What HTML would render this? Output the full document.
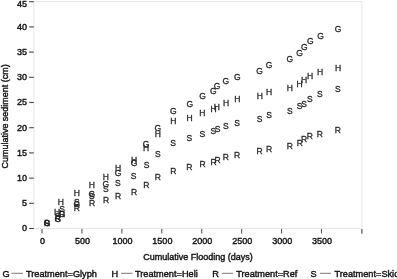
<!DOCTYPE html>
<html><head><meta charset="utf-8"><style>
html,body{margin:0;padding:0;background:#fff;width:397px;height:279px;overflow:hidden}
svg{display:block;filter:grayscale(1)}
text{font-family:"Liberation Sans",sans-serif;fill:#111;stroke:#111;stroke-width:0.4px}
.m text{font-size:9.5px;text-anchor:middle;fill:#222;stroke:#222;stroke-width:0.3px}
.tl{font-size:9px}
.tk{stroke:#444;stroke-width:1.1}
.lg{font-size:9.2px}
.ll{stroke:#777;stroke-width:1}
</style></head><body>
<svg width="397" height="279" viewBox="0 0 397 279">
<rect x="34" y="1.6" width="327.9" height="226.9" fill="none" stroke="#e6e6e6" stroke-width="1"/>
<line x1="361.9" y1="229" x2="361.9" y2="233.8" class="tk" style="stroke:#444"/>
<line x1="42.00" y1="229" x2="42.00" y2="233.5" class="tk" stroke="#555" style="stroke:#555"/>
<text x="42.60" y="243.60" text-anchor="middle" class="tl">0</text>
<line x1="81.93" y1="229" x2="81.93" y2="233.5" class="tk" stroke="#555" style="stroke:#555"/>
<text x="82.53" y="243.60" text-anchor="middle" class="tl">500</text>
<line x1="121.86" y1="229" x2="121.86" y2="233.5" class="tk" stroke="#555" style="stroke:#555"/>
<text x="122.46" y="243.60" text-anchor="middle" class="tl">1000</text>
<line x1="161.79" y1="229" x2="161.79" y2="233.5" class="tk" stroke="#555" style="stroke:#555"/>
<text x="162.39" y="243.60" text-anchor="middle" class="tl">1500</text>
<line x1="201.71" y1="229" x2="201.71" y2="233.5" class="tk" stroke="#555" style="stroke:#555"/>
<text x="202.31" y="243.60" text-anchor="middle" class="tl">2000</text>
<line x1="241.64" y1="229" x2="241.64" y2="233.5" class="tk" stroke="#555" style="stroke:#555"/>
<text x="242.24" y="243.60" text-anchor="middle" class="tl">2500</text>
<line x1="281.57" y1="229" x2="281.57" y2="233.5" class="tk" stroke="#555" style="stroke:#555"/>
<text x="282.17" y="243.60" text-anchor="middle" class="tl">3000</text>
<line x1="321.50" y1="229" x2="321.50" y2="233.5" class="tk" stroke="#555" style="stroke:#555"/>
<text x="322.10" y="243.60" text-anchor="middle" class="tl">3500</text>
<line x1="29.2" y1="228.50" x2="33.8" y2="228.50" class="tk"/>
<text x="27" y="231.40" text-anchor="end" class="tl">0</text>
<line x1="29.2" y1="203.30" x2="33.8" y2="203.30" class="tk"/>
<text x="27" y="206.20" text-anchor="end" class="tl">5</text>
<line x1="29.2" y1="178.10" x2="33.8" y2="178.10" class="tk"/>
<text x="27" y="181.00" text-anchor="end" class="tl">10</text>
<line x1="29.2" y1="152.90" x2="33.8" y2="152.90" class="tk"/>
<text x="27" y="155.80" text-anchor="end" class="tl">15</text>
<line x1="29.2" y1="127.70" x2="33.8" y2="127.70" class="tk"/>
<text x="27" y="130.60" text-anchor="end" class="tl">20</text>
<line x1="29.2" y1="102.50" x2="33.8" y2="102.50" class="tk"/>
<text x="27" y="105.40" text-anchor="end" class="tl">25</text>
<line x1="29.2" y1="77.30" x2="33.8" y2="77.30" class="tk"/>
<text x="27" y="80.20" text-anchor="end" class="tl">30</text>
<line x1="29.2" y1="52.10" x2="33.8" y2="52.10" class="tk"/>
<text x="27" y="55.00" text-anchor="end" class="tl">35</text>
<line x1="29.2" y1="26.90" x2="33.8" y2="26.90" class="tk"/>
<text x="27" y="29.80" text-anchor="end" class="tl">40</text>
<line x1="29.2" y1="1.70" x2="33.8" y2="1.70" class="tk"/>
<text x="27" y="6.60" text-anchor="end" class="tl">45</text>
<g class="m">
<text transform="translate(47,225.87) scale(0.9,1)">G</text>
<text transform="translate(57.8,221.87) scale(0.9,1)">G</text>
<text transform="translate(62,217.27) scale(0.9,1)">G</text>
<text transform="translate(76.8,206.77) scale(0.9,1)">G</text>
<text transform="translate(91.8,196.87) scale(0.9,1)">G</text>
<text transform="translate(105.8,186.77) scale(0.9,1)">G</text>
<text transform="translate(118,175.97) scale(0.9,1)">G</text>
<text transform="translate(134,165.67) scale(0.9,1)">G</text>
<text transform="translate(146,147.27) scale(0.9,1)">G</text>
<text transform="translate(157.7,130.57) scale(0.9,1)">G</text>
<text transform="translate(173.2,113.57) scale(0.9,1)">G</text>
<text transform="translate(189.8,107.17) scale(0.9,1)">G</text>
<text transform="translate(202.6,99.47) scale(0.9,1)">G</text>
<text transform="translate(213.4,94.37) scale(0.9,1)">G</text>
<text transform="translate(217.1,89.27) scale(0.9,1)">G</text>
<text transform="translate(225.9,84.07) scale(0.9,1)">G</text>
<text transform="translate(237.3,79.57) scale(0.9,1)">G</text>
<text transform="translate(259.5,73.77) scale(0.9,1)">G</text>
<text transform="translate(269,68.07) scale(0.9,1)">G</text>
<text transform="translate(289.8,61.87) scale(0.9,1)">G</text>
<text transform="translate(299.6,56.17) scale(0.9,1)">G</text>
<text transform="translate(304.2,50.17) scale(0.9,1)">G</text>
<text transform="translate(310.2,44.27) scale(0.9,1)">G</text>
<text transform="translate(320.5,38.87) scale(0.9,1)">G</text>
<text transform="translate(338.1,32.47) scale(0.9,1)">G</text>
<text transform="translate(57.1,215.07) scale(0.9,1)">H</text>
<text transform="translate(60.9,204.57) scale(0.9,1)">H</text>
<text transform="translate(76.8,196.07) scale(0.9,1)">H</text>
<text transform="translate(91.7,188.27) scale(0.9,1)">H</text>
<text transform="translate(105.8,180.07) scale(0.9,1)">H</text>
<text transform="translate(118,171.07) scale(0.9,1)">H</text>
<text transform="translate(134,162.97) scale(0.9,1)">H</text>
<text transform="translate(146,150.77) scale(0.9,1)">H</text>
<text transform="translate(157.8,137.07) scale(0.9,1)">H</text>
<text transform="translate(173.2,124.47) scale(0.9,1)">H</text>
<text transform="translate(189.6,120.97) scale(0.9,1)">H</text>
<text transform="translate(202.4,116.47) scale(0.9,1)">H</text>
<text transform="translate(213.5,112.47) scale(0.9,1)">H</text>
<text transform="translate(216.9,109.57) scale(0.9,1)">H</text>
<text transform="translate(226,105.77) scale(0.9,1)">H</text>
<text transform="translate(237.2,102.47) scale(0.9,1)">H</text>
<text transform="translate(259.7,98.77) scale(0.9,1)">H</text>
<text transform="translate(269,95.27) scale(0.9,1)">H</text>
<text transform="translate(289.8,90.97) scale(0.9,1)">H</text>
<text transform="translate(299.5,87.17) scale(0.9,1)">H</text>
<text transform="translate(304,83.07) scale(0.9,1)">H</text>
<text transform="translate(310,78.77) scale(0.9,1)">H</text>
<text transform="translate(320.1,75.27) scale(0.9,1)">H</text>
<text transform="translate(338,71.07) scale(0.9,1)">H</text>
<text transform="translate(47,225.87) scale(0.9,1)">R</text>
<text transform="translate(57.8,221.47) scale(0.9,1)">R</text>
<text transform="translate(62,217.27) scale(0.9,1)">R</text>
<text transform="translate(76.8,210.87) scale(0.9,1)">R</text>
<text transform="translate(92,206.27) scale(0.9,1)">R</text>
<text transform="translate(106,202.77) scale(0.9,1)">R</text>
<text transform="translate(118,199.27) scale(0.9,1)">R</text>
<text transform="translate(134,194.87) scale(0.9,1)">R</text>
<text transform="translate(146.2,188.07) scale(0.9,1)">R</text>
<text transform="translate(157.8,180.37) scale(0.9,1)">R</text>
<text transform="translate(173.4,173.77) scale(0.9,1)">R</text>
<text transform="translate(189.4,169.97) scale(0.9,1)">R</text>
<text transform="translate(202.6,166.97) scale(0.9,1)">R</text>
<text transform="translate(213.5,164.97) scale(0.9,1)">R</text>
<text transform="translate(217.6,163.07) scale(0.9,1)">R</text>
<text transform="translate(225.8,159.67) scale(0.9,1)">R</text>
<text transform="translate(237,158.07) scale(0.9,1)">R</text>
<text transform="translate(259.6,154.47) scale(0.9,1)">R</text>
<text transform="translate(269,151.57) scale(0.9,1)">R</text>
<text transform="translate(289.9,148.67) scale(0.9,1)">R</text>
<text transform="translate(299.7,145.87) scale(0.9,1)">R</text>
<text transform="translate(304.1,142.27) scale(0.9,1)">R</text>
<text transform="translate(309.9,138.87) scale(0.9,1)">R</text>
<text transform="translate(319.8,136.57) scale(0.9,1)">R</text>
<text transform="translate(337.8,132.87) scale(0.9,1)">R</text>
<text transform="translate(47,225.87) scale(0.9,1)">S</text>
<text transform="translate(57.6,218.77) scale(0.9,1)">S</text>
<text transform="translate(62,212.27) scale(0.9,1)">S</text>
<text transform="translate(76.8,204.77) scale(0.9,1)">S</text>
<text transform="translate(91.8,198.87) scale(0.9,1)">S</text>
<text transform="translate(105.8,192.27) scale(0.9,1)">S</text>
<text transform="translate(117.8,186.17) scale(0.9,1)">S</text>
<text transform="translate(133.7,179.07) scale(0.9,1)">S</text>
<text transform="translate(146.5,168.27) scale(0.9,1)">S</text>
<text transform="translate(157.8,156.97) scale(0.9,1)">S</text>
<text transform="translate(173.1,145.87) scale(0.9,1)">S</text>
<text transform="translate(189.4,141.27) scale(0.9,1)">S</text>
<text transform="translate(202.3,137.27) scale(0.9,1)">S</text>
<text transform="translate(213.3,134.27) scale(0.9,1)">S</text>
<text transform="translate(217.6,131.87) scale(0.9,1)">S</text>
<text transform="translate(225.8,128.67) scale(0.9,1)">S</text>
<text transform="translate(237,126.17) scale(0.9,1)">S</text>
<text transform="translate(259.6,122.27) scale(0.9,1)">S</text>
<text transform="translate(269,118.17) scale(0.9,1)">S</text>
<text transform="translate(289.9,113.67) scale(0.9,1)">S</text>
<text transform="translate(299.7,109.47) scale(0.9,1)">S</text>
<text transform="translate(304.1,106.57) scale(0.9,1)">S</text>
<text transform="translate(309.9,101.87) scale(0.9,1)">S</text>
<text transform="translate(319.8,97.17) scale(0.9,1)">S</text>
<text transform="translate(337.8,92.27) scale(0.9,1)">S</text>
</g>
<text x="198" y="259.6" text-anchor="middle" class="lg" style="font-size:9px">Cumulative Flooding (days)</text>
<text transform="translate(8,116.4) rotate(-90)" text-anchor="middle" class="lg" style="font-size:8.97px">Cumulative sediment (cm)</text>
<text x="2.5" y="276.5" class="lg">G</text><line x1="11.5" y1="273.3" x2="23" y2="273.3" class="ll"/><text x="26" y="276.5" class="lg">Treatment=Glyph</text>
<text x="111.5" y="276.5" class="lg">H</text><line x1="121" y1="273.3" x2="132.5" y2="273.3" class="ll"/><text x="135" y="276.5" class="lg">Treatment=Heli</text>
<text x="212.3" y="276.5" class="lg">R</text><line x1="221.8" y1="273.3" x2="233" y2="273.3" class="ll"/><text x="236.2" y="276.5" class="lg">Treatment=Ref</text>
<text x="310.5" y="276.5" class="lg">S</text><line x1="320" y1="273.3" x2="331" y2="273.3" class="ll"/><text x="334.5" y="276.5" class="lg">Treatment=Skid</text>
</svg>
</body></html>
